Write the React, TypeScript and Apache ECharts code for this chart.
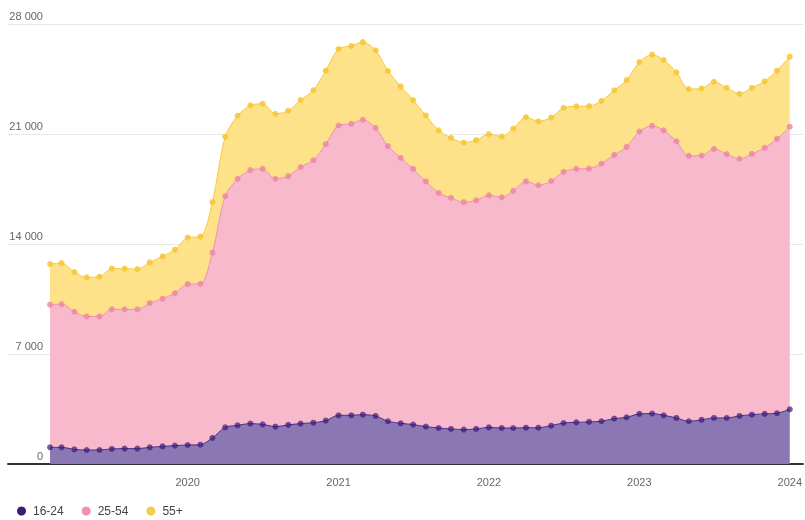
import React, { useEffect, useRef } from "react";
import * as echarts from "echarts";

const months = [
  "2019-02-01", "2019-03-01", "2019-04-01", "2019-05-01", "2019-06-01", "2019-07-01",
  "2019-08-01", "2019-09-01", "2019-10-01", "2019-11-01", "2019-12-01", "2020-01-01",
  "2020-02-01", "2020-03-01", "2020-04-01", "2020-05-01", "2020-06-01", "2020-07-01",
  "2020-08-01", "2020-09-01", "2020-10-01", "2020-11-01", "2020-12-01", "2021-01-01",
  "2021-02-01", "2021-03-01", "2021-04-01", "2021-05-01", "2021-06-01", "2021-07-01",
  "2021-08-01", "2021-09-01", "2021-10-01", "2021-11-01", "2021-12-01", "2022-01-01",
  "2022-02-01", "2022-03-01", "2022-04-01", "2022-05-01", "2022-06-01", "2022-07-01",
  "2022-08-01", "2022-09-01", "2022-10-01", "2022-11-01", "2022-12-01", "2023-01-01",
  "2023-02-01", "2023-03-01", "2023-04-01", "2023-05-01", "2023-06-01", "2023-07-01",
  "2023-08-01", "2023-09-01", "2023-10-01", "2023-11-01", "2023-12-01", "2024-01-01",
];

const age16to24 = [
  1060, 1060, 930, 890, 890, 960, 980, 980, 1060, 1120, 1170, 1210,
  1230, 1660, 2330, 2460, 2570, 2520, 2380, 2490, 2570, 2630, 2760, 3100,
  3100, 3140, 3060, 2720, 2590, 2510, 2380, 2290, 2230, 2190, 2230, 2330,
  2290, 2290, 2310, 2310, 2440, 2610, 2650, 2680, 2720, 2890, 2970, 3190,
  3210, 3100, 2930, 2720, 2810, 2930, 2930, 3060, 3140, 3190, 3230, 3480,
];

const age25to54 = [
  9080, 9110, 8760, 8500, 8500, 8880, 8860, 8860, 9180, 9400, 9700, 10240,
  10240, 11790, 14710, 15680, 16130, 16260, 15770, 15830, 16330, 16700, 17590, 18440,
  18550, 18760, 18330, 17510, 16890, 16270, 15610, 14960, 14700, 14470, 14550, 14770,
  14680, 15090, 15680, 15430, 15570, 15980, 16130, 16120, 16400, 16780, 17210, 17970,
  18310, 18130, 17610, 16890, 16820, 17120, 16790, 16360, 16590, 16930, 17460, 17980,
];

const age55plus = [
  2580, 2620, 2520, 2490, 2530, 2590, 2590, 2560, 2590, 2690, 2770, 2960,
  3000, 3210, 3780, 4020, 4120, 4140, 4130, 4160, 4260, 4450, 4680, 4870,
  4950, 4950, 4940, 4780, 4550, 4380, 4190, 3980, 3820, 3800, 3830, 3890,
  3870, 3970, 4080, 4060, 4040, 4080, 3980, 3970, 3990, 4110, 4250, 4420,
  4530, 4480, 4380, 4250, 4270, 4270, 4220, 4140, 4210, 4230, 4340, 4460,
];

const seriesNames = ["16-24", "25-54", "55+"];
const yTicks = [0, 7000, 14000, 21000, 28000];

const FONT = "'Liberation Sans', Arial, sans-serif";

function fmt(v: number) {
  return String(v).replace(/\B(?=(\d{3})+(?!\d))/g, " ");
}

export default function App() {
  const ref = useRef<HTMLDivElement>(null);

  useEffect(() => {
    if (!ref.current) return;
    const chart = echarts.init(ref.current, undefined, { renderer: "svg" });

    const styles = [
      { marker: "rgba(59,26,120,0.7)", line: "#4a2a86", fill: "#8a77b4", legend: "#3b1a78" },
      { marker: "rgba(236,132,166,0.8)", line: "#ee90ae", fill: "#f7b9cb", legend: "#f191b0" },
      { marker: "rgba(246,198,52,0.85)", line: "#f6c93e", fill: "#fde28a", legend: "#f7cd45" },
    ];
    const values = [age16to24, age25to54, age55plus];
    const firstTime = new Date(months[0]).getTime();

    const year = 365 * 24 * 3600 * 1000;

    const areaSeries = seriesNames.map((name, i) => ({
      name,
      type: "line",
      stack: "area",
      smooth: 0.3,
      symbol: "none",
      showSymbol: false,
      itemStyle: { color: styles[i].legend },
      lineStyle: { width: 0, color: styles[i].fill },
      areaStyle: { color: styles[i].fill, opacity: 1 },
      emphasis: { disabled: true },
      silent: true,
      data: months.map((m, j) => [m, values[i][j]]),
      z: 2,
    }));

    const lineSeries = seriesNames.map((name, i) => ({
      name,
      type: "line",
      stack: "lines",
      smooth: 0.3,
      symbol: "circle",
      symbolSize: 6,
      showSymbol: true,
      itemStyle: { color: styles[i].marker },
      lineStyle: { color: styles[i].line, width: 1 },
      emphasis: { disabled: true },
      data: months.map((m, j) => [m, values[i][j]]),
      z: 5,
    }));

    chart.setOption({
      animation: false,
      textStyle: { fontFamily: FONT },
      grid: { left: 8, right: 0, top: 24, bottom: 56, containLabel: false },
      legend: {
        left: 17,
        top: 505,
        padding: 0,
        icon: "circle",
        itemWidth: 13,
        itemHeight: 9,
        itemGap: 18,
        textStyle: { fontSize: 12, color: "#444", fontFamily: FONT },
        data: seriesNames.map((n, i) => ({ name: n, itemStyle: { color: styles[i].legend } })),
      },
      xAxis: {
        type: "time",
        min: "2018-10-22",
        max: "2024-02-02",
        minInterval: year,
        maxInterval: year + 24 * 3600 * 1000,
        axisLine: { show: true, lineStyle: { color: "#333", width: 2 } },
        axisTick: { show: false },
        splitLine: { show: false },
        axisLabel: {
          color: "#666",
          fontSize: 11,
          margin: 12,
          fontFamily: FONT,
          formatter: (v: number) => {
            const d = new Date(v);
            if (v < firstTime) return "";
            return d.getMonth() === 0 && d.getDate() === 1 ? String(d.getFullYear()) : "";
          },
        },
      },
      yAxis: {
        type: "value",
        min: yTicks[0],
        max: yTicks[yTicks.length - 1],
        interval: yTicks[1] - yTicks[0],
        axisLine: { show: false },
        axisTick: { show: false },
        splitLine: { lineStyle: { color: "#e8e8e8", width: 1 } },
        axisLabel: {
          inside: true,
          margin: 35,
          align: "right",
          verticalAlign: "bottom",
          padding: [0, 0, 3, 0],
          color: "#666",
          fontSize: 11,
          fontFamily: FONT,
          formatter: (v: number) => fmt(v),
        },
      },
      series: [...areaSeries, ...lineSeries],
    });

    return () => chart.dispose();
  }, []);

  return (
    <div
      ref={ref}
      style={{ position: "fixed", left: 0, top: 0, width: 805, height: 520 }}
    />
  );
}
